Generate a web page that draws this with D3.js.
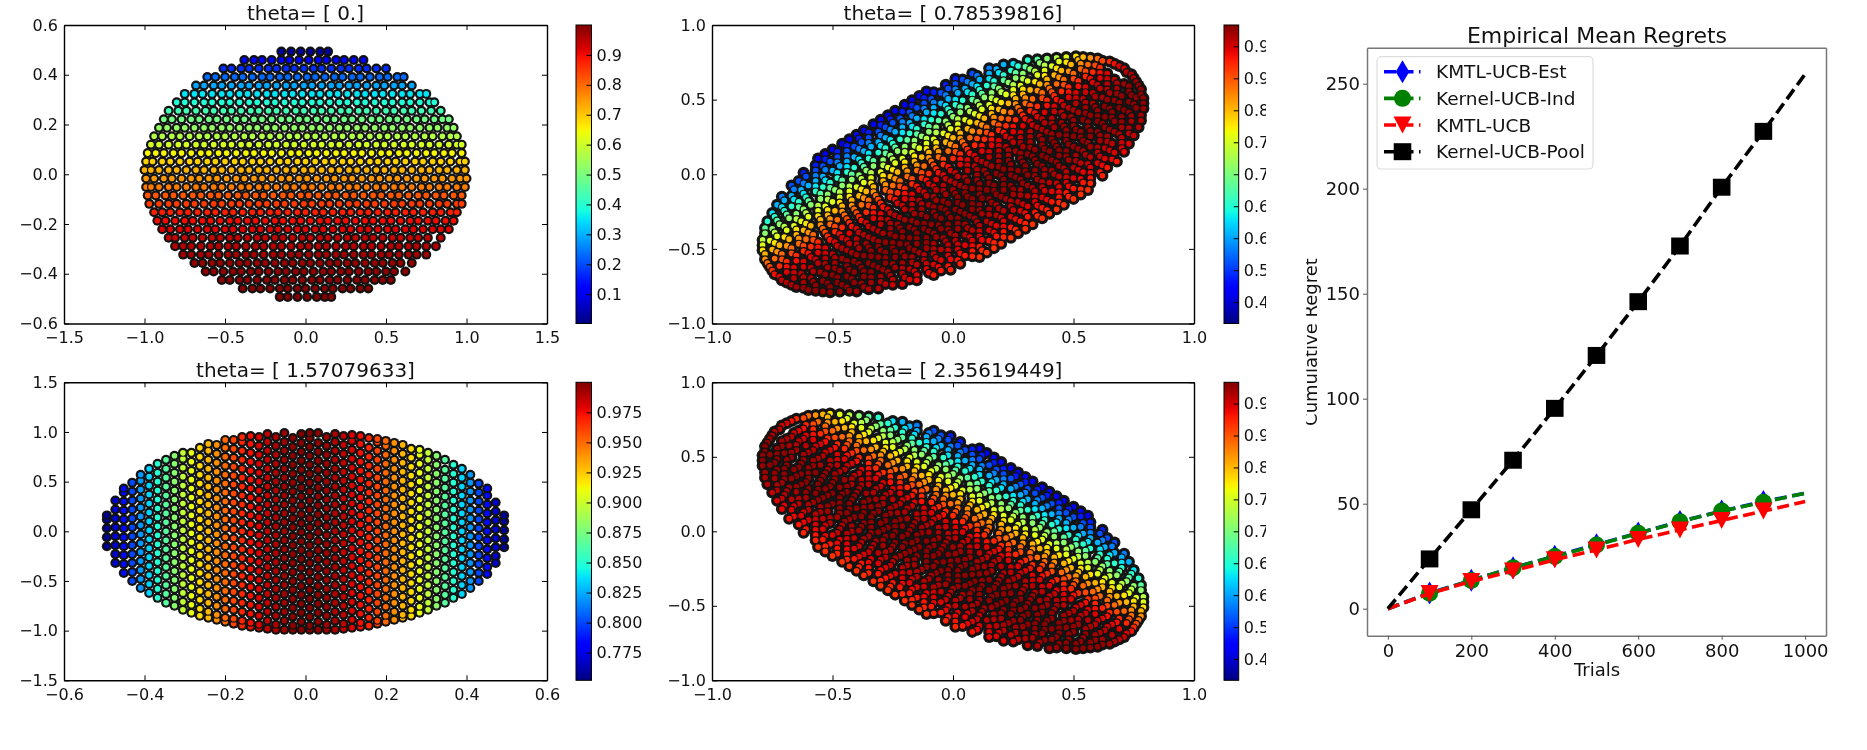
<!DOCTYPE html>
<html><head><meta charset="utf-8">
<script src="https://cdn.jsdelivr.net/npm/d3@7"></script>
<style>
html,body{margin:0;padding:0;background:#fff}
svg{display:block;font-family:"DejaVu Sans",sans-serif;filter:blur(.35px)}
.tick text{fill:#111}
</style></head><body>
<svg id="c" width="1867" height="750"></svg>
<script>
// ---------- Panel 1: rows [y, value, x hundredths]
const rows1=[
[.493,.03,[-15,-9,-3,3,9,14]],
[.459,.11,[-38,-32,-27,-21,-15,-10,-4,2,8,13,19,24,30,36]],
[.425,.17,[-51,-46,-40,-35,-29,-23,-18,-12,-7,-1,5,10,16,22,27,33,38,44,50]],
[.391,.23,[-61,-56,-50,-44,-39,-33,-27,-22,-16,-11,-5,1,6,12,18,23,29,34,40,46,51,57,61]],
[.357,.29,[-68,-63,-57,-52,-46,-40,-35,-29,-24,-18,-12,-7,-1,4,10,16,21,27,32,38,44,49,55,60,66]],
[.323,.35,[-75,-69,-64,-58,-52,-47,-41,-36,-30,-24,-19,-13,-8,-2,4,9,15,20,26,32,37,43,48,54,60,65,71,75]],
[.289,.39,[-80,-75,-69,-63,-58,-52,-47,-41,-35,-30,-24,-19,-13,-7,-2,4,9,15,21,26,32,37,43,49,54,60,65,71,77,80]],
[.255,.43,[-85,-79,-74,-68,-62,-57,-51,-46,-40,-34,-29,-23,-18,-12,-6,-1,5,10,16,22,27,33,38,44,50,55,61,66,72,78,84]],
[.221,.49,[-88,-83,-77,-71,-66,-60,-55,-49,-43,-38,-32,-27,-21,-15,-10,-4,1,7,13,18,24,29,35,41,46,52,57,63,69,74,80,85,89]],
[.187,.53,[-91,-86,-80,-75,-69,-63,-58,-52,-47,-41,-35,-30,-24,-19,-13,-7,-2,4,9,15,21,26,32,37,43,49,54,60,65,71,77,82,88,92]],
[.153,.57,[-94,-89,-83,-78,-72,-66,-61,-55,-50,-44,-38,-33,-27,-22,-16,-10,-5,1,6,12,18,23,29,34,40,46,51,57,62,68,74,79,85,90,94]],
[.119,.61,[-96,-91,-85,-79,-74,-68,-63,-57,-51,-46,-40,-35,-29,-23,-18,-12,-7,-1,5,10,16,21,27,33,38,44,49,55,61,66,72,77,83,89,94,97]],
[.085,.65,[-98,-93,-88,-82,-77,-71,-65,-60,-54,-49,-43,-37,-32,-26,-21,-15,-9,-4,2,7,13,19,24,30,35,41,47,52,58,63,69,75,80,86,91,97]],
[.051,.69,[-99,-95,-89,-84,-78,-72,-67,-61,-56,-50,-44,-39,-33,-28,-22,-16,-11,-5,0,6,12,17,23,28,34,40,45,51,56,62,68,73,79,84,90,96,99]],
[.017,.72,[-100,-96,-91,-85,-80,-74,-68,-63,-57,-52,-46,-40,-35,-29,-24,-18,-12,-7,-1,4,10,16,21,27,32,38,44,49,55,60,66,72,77,83,88,94,99]],
[-.017,.75,[-99,-94,-88,-83,-77,-71,-66,-60,-55,-49,-43,-38,-32,-27,-21,-15,-10,-4,1,7,13,18,24,29,35,41,46,52,57,63,69,74,80,85,91,96,100]],
[-.051,.78,[-99,-96,-91,-85,-80,-74,-68,-63,-57,-52,-46,-40,-35,-29,-24,-18,-12,-7,-1,4,10,16,21,27,32,38,44,49,55,60,66,72,77,83,88,94,99]],
[-.085,.82,[-98,-93,-87,-82,-76,-70,-65,-59,-54,-48,-42,-37,-31,-26,-20,-14,-9,-3,2,8,14,19,25,30,36,42,47,53,58,64,70,75,81,86,92,97]],
[-.119,.85,[-97,-91,-85,-80,-74,-69,-63,-57,-52,-46,-41,-35,-29,-24,-18,-13,-7,-1,4,10,15,21,27,32,38,43,49,55,60,66,71,77,83,88,94,97]],
[-.153,.88,[-94,-89,-84,-78,-73,-67,-61,-56,-50,-45,-39,-33,-28,-22,-17,-11,-5,0,6,11,17,23,28,34,39,45,51,56,62,67,73,79,84,90,94]],
[-.187,.90,[-92,-87,-81,-75,-70,-64,-59,-53,-47,-42,-36,-31,-25,-19,-14,-8,-3,3,9,14,20,25,31,37,42,48,53,59,65,70,76,81,87,92]],
[-.221,.92,[-89,-84,-78,-73,-67,-61,-56,-50,-45,-39,-33,-28,-22,-17,-11,-5,0,6,11,17,23,28,34,39,45,51,56,62,67,73,79,84,89]],
[-.255,.94,[-85,-81,-75,-70,-64,-58,-53,-47,-42,-36,-30,-25,-19,-14,-8,-2,3,9,14,20,26,31,37,42,48,54,59,65,70,76,84]],
[-.289,.955,[-81,-76,-71,-65,-59,-54,-48,-43,-37,-31,-26,-20,-15,-9,-3,2,8,13,19,25,30,36,41,47,53,58,64,69,75,81]],
[-.323,.968,[-76,-71,-65,-60,-54,-48,-43,-37,-32,-26,-20,-15,-9,-4,2,8,13,19,24,30,36,41,47,52,58,64,69,75]],
[-.357,.978,[-69,-64,-58,-53,-47,-41,-36,-30,-25,-19,-13,-8,-2,3,9,15,20,26,31,37,43,48,54,59,66]],
[-.391,.985,[-62,-57,-51,-45,-40,-34,-29,-23,-17,-12,-6,-1,5,11,16,22,27,33,39,44,50,55,62]],
[-.425,.99,[-52,-47,-41,-36,-30,-24,-19,-13,-8,-2,4,9,15,20,26,32,37,43,48,53]],
[-.459,.995,[-39,-33,-28,-22,-16,-11,-5,0,6,12,17,23,28,34,39]],
[-.493,.999,[-16,-11,-5,1,7,12,16]]
];
// ---------- Panel 3: columns [x, value, y hundredths]
const cols3=[
[-.4935,.757,[-15,-6,3,12,16]],
[-.4725,.77,[-32,-23,-14,-5,4,13,22,31]],
[-.4515,.785,[-42,-33,-24,-15,-6,3,12,21,30,39,43]],
[-.4305,.80,[-50,-41,-32,-23,-14,-5,4,13,22,31,40,49]],
[-.4095,.82,[-57,-48,-39,-30,-21,-12,-3,6,15,24,33,42,51,57]],
[-.3885,.835,[-62,-53,-44,-35,-26,-17,-8,1,10,19,28,37,46,55,63]],
[-.3675,.85,[-67,-58,-49,-40,-31,-22,-13,-4,5,14,23,32,41,50,59,68]],
[-.3465,.865,[-72,-63,-54,-45,-36,-27,-18,-9,0,9,18,27,36,45,54,63,72]],
[-.3255,.88,[-75,-67,-58,-49,-40,-31,-22,-13,-4,5,14,23,32,41,50,59,68,76]],
[-.3045,.897,[-79,-71,-62,-53,-44,-35,-26,-17,-8,1,10,19,28,37,46,55,64,73,79]],
[-.2835,.908,[-82,-74,-65,-56,-47,-38,-29,-20,-11,-2,7,16,25,34,43,52,61,70,79]],
[-.2625,.92,[-85,-78,-69,-60,-51,-42,-33,-24,-15,-6,3,12,21,30,39,48,57,66,75,84]],
[-.2415,.93,[-87,-81,-72,-63,-54,-45,-36,-27,-18,-9,0,9,18,27,36,45,54,63,72,81,88]],
[-.2205,.94,[-89,-84,-75,-66,-57,-48,-39,-30,-21,-12,-3,6,15,24,33,42,51,60,69,78,87]],
[-.1995,.95,[-91,-87,-78,-69,-60,-51,-42,-33,-24,-15,-6,3,12,21,30,39,48,57,66,75,84,92]],
[-.1785,.96,[-93,-88,-79,-70,-61,-52,-43,-34,-25,-16,-7,2,11,20,29,38,47,56,65,74,83,92]],
[-.1575,.968,[-95,-90,-81,-72,-63,-54,-45,-36,-27,-18,-9,0,9,18,27,36,45,54,63,72,81,90,95]],
[-.1365,.974,[-96,-92,-83,-74,-65,-56,-47,-38,-29,-20,-11,-2,7,16,25,34,43,52,61,70,79,88,96]],
[-.1155,.98,[-97,-94,-85,-76,-67,-58,-49,-40,-31,-22,-13,-4,5,14,23,32,41,50,59,68,77,86,95]],
[-.0945,.986,[-98,-90,-81,-72,-63,-54,-45,-36,-27,-18,-9,0,9,18,27,36,45,54,63,72,81,90,98]],
[-.0735,.99,[-99,-94,-85,-76,-67,-58,-49,-40,-31,-22,-13,-4,5,14,23,32,41,50,59,68,77,86,95]],
[-.0525,.994,[-99,-90,-81,-72,-63,-54,-45,-36,-27,-18,-9,0,9,18,27,36,45,54,63,72,81,90,99]],
[-.0315,.997,[-99,-95,-86,-77,-68,-59,-50,-41,-32,-23,-14,-5,4,13,22,31,40,49,58,67,76,85,94]],
[-.0105,.999,[-99,-91,-82,-73,-64,-55,-46,-37,-28,-19,-10,-1,8,17,26,35,44,53,62,71,80,89,98]],
[.0105,.999,[-99,-95,-86,-77,-68,-59,-50,-41,-32,-23,-14,-5,4,13,22,31,40,49,58,67,76,85,94,99]],
[.0315,.997,[-99,-91,-82,-73,-64,-55,-46,-37,-28,-19,-10,-1,8,17,26,35,44,53,62,71,80,89,99]],
[.0525,.994,[-99,-94,-85,-76,-67,-58,-49,-40,-31,-22,-13,-4,5,14,23,32,41,50,59,68,77,86,95]],
[.0735,.99,[-99,-90,-81,-72,-63,-54,-45,-36,-27,-18,-9,0,9,18,27,36,45,54,63,72,81,90,98]],
[.0945,.986,[-98,-93,-84,-75,-66,-57,-48,-39,-30,-21,-12,-3,6,15,24,33,42,51,60,69,78,87,96]],
[.1155,.98,[-97,-89,-80,-71,-62,-53,-44,-35,-26,-17,-8,1,10,19,28,37,46,55,64,73,82,91,97]],
[.1365,.974,[-96,-92,-83,-74,-65,-56,-47,-38,-29,-20,-11,-2,7,16,25,34,43,52,61,70,79,88,96]],
[.1575,.968,[-95,-87,-78,-69,-60,-51,-42,-33,-24,-15,-6,3,12,21,30,39,48,57,66,75,84,94]],
[.1785,.96,[-93,-90,-81,-72,-63,-54,-45,-36,-27,-18,-9,0,9,18,27,36,45,54,63,72,81,90,93]],
[.1995,.95,[-91,-85,-76,-67,-58,-49,-40,-31,-22,-13,-4,5,14,23,32,41,50,59,68,77,86,91]],
[.2205,.94,[-89,-81,-72,-63,-54,-45,-36,-27,-18,-9,0,9,18,27,36,45,54,63,72,81,89]],
[.2415,.93,[-87,-84,-75,-66,-57,-48,-39,-30,-21,-12,-3,6,15,24,33,42,51,60,69,78,87]],
[.2625,.92,[-85,-79,-70,-61,-52,-43,-34,-25,-16,-7,2,11,20,29,38,47,56,65,74,83]],
[.2835,.908,[-82,-76,-67,-58,-49,-40,-31,-22,-13,-4,5,14,23,32,41,50,59,68,77,82]],
[.3045,.897,[-79,-72,-63,-54,-45,-36,-27,-18,-9,0,9,18,27,36,45,54,63,72,79]],
[.3255,.88,[-75,-68,-59,-50,-41,-32,-23,-14,-5,4,13,22,31,40,49,58,67,76]],
[.3465,.865,[-72,-64,-55,-46,-37,-28,-19,-10,-1,8,17,26,35,44,53,62,72]],
[.3675,.85,[-67,-59,-50,-41,-32,-23,-14,-5,4,13,22,31,40,49,58,67]],
[.3885,.835,[-63,-54,-45,-36,-27,-18,-9,0,9,18,27,36,45,54,63]],
[.4095,.82,[-57,-50,-41,-32,-23,-14,-5,4,13,22,31,40,49,57]],
[.4305,.80,[-50,-42,-33,-24,-15,-6,3,12,21,30,39,48]],
[.4515,.785,[-43,-36,-27,-18,-9,0,9,18,27,36,43]],
[.4725,.77,[-32,-25,-16,-7,2,11,20,29]],
[.4935,.757,[-16,-8,1,10,16]]
];
// ---------- Panels 2 and 4: diagonal bands [c, value, x hundredths]; panel 2 has y-x=c, panel 4 has y+x=c
const bands2=[
[.665,.496,[-56,-53,-50,-46,-43,-40,-37,-33,-30,-27,-24,-20,-17,-14,-11]],
[.63,.524,[-62,-57,-53,-48,-44,-39,-35,-30,-26,-21,-17,-12,-8,-3,1]],
[.595,.552,[-67,-64,-61,-57,-54,-51,-48,-44,-41,-38,-35,-31,-28,-25,-22,-18,-15,-12,-9,-5,-2,1,4,8]],
[.56,.58,[-71,-66,-62,-57,-53,-48,-44,-39,-35,-30,-26,-21,-17,-12,-8,-3,1,6,10,15]],
[.525,.608,[-73,-70,-67,-63,-60,-57,-54,-50,-47,-44,-41,-37,-34,-31,-28,-24,-21,-18,-15,-11,-8,-5,-2,2,5,8,11,15,18,21]],
[.49,.636,[-75,-71,-66,-62,-57,-53,-48,-44,-39,-35,-30,-26,-21,-17,-12,-8,-3,1,6,10,15,19,25]],
[.455,.664,[-77,-74,-70,-67,-64,-61,-57,-54,-51,-48,-44,-41,-38,-35,-31,-28,-25,-22,-18,-15,-12,-9,-5,-2,1,4,8,11,14,17,21,24,27,31]],
[.42,.697,[-78,-73,-69,-64,-60,-55,-51,-46,-42,-37,-33,-28,-24,-19,-15,-10,-6,-1,3,8,12,17,21,26,30,35]],
[.385,.731,[-78,-75,-72,-68,-65,-62,-59,-55,-52,-49,-46,-42,-39,-36,-33,-29,-26,-23,-20,-16,-13,-10,-7,-3,0,3,6,10,13,16,19,23,26,29,32,36,39]],
[.35,.76,[-79,-74,-70,-65,-61,-56,-52,-47,-43,-38,-34,-29,-25,-20,-16,-11,-7,-2,2,7,11,16,20,25,29,34,38,43]],
[.315,.787,[-79,-76,-73,-69,-66,-63,-60,-56,-53,-50,-47,-43,-40,-37,-34,-30,-27,-24,-21,-17,-14,-11,-8,-4,-1,2,5,9,12,15,18,22,25,28,31,35,38,41,44,47]],
[.28,.815,[-79,-74,-70,-65,-61,-56,-52,-47,-43,-38,-34,-29,-25,-20,-16,-11,-7,-2,2,7,11,16,20,25,29,34,38,43,47,51]],
[.245,.843,[-78,-75,-72,-68,-65,-62,-59,-55,-52,-49,-46,-42,-39,-36,-33,-29,-26,-23,-20,-16,-13,-10,-7,-3,0,3,6,10,13,16,19,23,26,29,32,36,39,42,45,49,52,54]],
[.21,.865,[-78,-73,-69,-64,-60,-55,-51,-46,-42,-37,-33,-28,-24,-19,-15,-10,-6,-1,3,8,12,17,21,26,30,35,39,44,48,53,57]],
[.175,.888,[-77,-74,-71,-67,-64,-61,-58,-54,-51,-48,-45,-41,-38,-35,-32,-28,-25,-22,-19,-15,-12,-9,-6,-2,1,4,7,11,14,17,20,24,27,30,33,37,40,43,46,50,53,56,60]],
[.14,.908,[-76,-71,-67,-62,-58,-53,-49,-44,-40,-35,-31,-26,-22,-17,-13,-8,-4,1,5,10,14,19,23,28,32,37,41,46,50,55,59,62]],
[.105,.927,[-75,-72,-69,-65,-62,-59,-56,-52,-49,-46,-43,-39,-36,-33,-30,-26,-23,-20,-17,-13,-10,-7,-4,0,3,6,9,13,16,19,22,26,29,32,35,39,42,45,48,52,55,58,61,65]],
[.07,.942,[-74,-69,-65,-60,-56,-51,-47,-42,-38,-33,-29,-24,-20,-15,-11,-6,-2,3,7,12,16,21,25,30,34,39,43,48,52,57,61,67]],
[.035,.955,[-72,-69,-66,-62,-59,-56,-53,-49,-46,-43,-40,-36,-33,-30,-27,-23,-20,-17,-14,-10,-7,-4,-1,3,6,9,12,16,19,22,25,29,32,35,38,42,45,48,51,55,58,61,64,69]],
[0,.964,[-71,-66,-62,-57,-53,-48,-44,-39,-35,-30,-26,-21,-17,-12,-8,-3,1,6,10,15,19,24,28,33,37,42,46,51,55,60,64,71]],
[-.035,.972,[-69,-66,-63,-59,-56,-53,-50,-46,-43,-40,-37,-33,-30,-27,-24,-20,-17,-14,-11,-7,-4,-1,2,6,9,12,15,19,22,25,28,32,35,38,41,45,48,51,54,58,61,64,67,72]],
[-.07,.978,[-67,-62,-58,-53,-49,-44,-40,-35,-31,-26,-22,-17,-13,-8,-4,1,5,10,14,19,23,28,32,37,41,46,50,55,59,64,68,74]],
[-.105,.983,[-65,-62,-59,-55,-52,-49,-46,-42,-39,-36,-33,-29,-26,-23,-20,-16,-13,-10,-7,-3,0,3,6,10,13,16,19,23,26,29,32,36,39,42,45,49,52,55,58,62,65,68,71,75]],
[-.14,.988,[-62,-58,-53,-49,-44,-40,-35,-31,-26,-22,-17,-13,-8,-4,1,5,10,14,19,23,28,32,37,41,46,50,55,59,64,68,73,76]],
[-.175,.992,[-60,-57,-54,-50,-47,-44,-41,-37,-34,-31,-28,-24,-21,-18,-15,-11,-8,-5,-2,2,5,8,11,15,18,21,24,28,31,34,37,41,44,47,50,54,57,60,63,67,70,73,77]],
[-.21,.993,[-57,-52,-48,-43,-39,-34,-30,-25,-21,-16,-12,-7,-3,2,6,11,15,20,24,29,33,38,42,47,51,56,60,65,69,74,78]],
[-.245,.994,[-54,-51,-48,-44,-41,-38,-35,-31,-28,-25,-22,-18,-15,-12,-9,-5,-2,1,4,8,11,14,17,21,24,27,30,34,37,40,43,47,50,53,56,60,63,66,69,73,76,78]],
[-.28,.993,[-51,-46,-42,-37,-33,-28,-24,-19,-15,-10,-6,-1,3,8,12,17,21,26,30,35,39,44,48,53,57,62,66,71,75,79]],
[-.315,.992,[-47,-44,-41,-37,-34,-31,-28,-24,-21,-18,-15,-11,-8,-5,-2,2,5,8,11,15,18,21,24,28,31,34,37,41,44,47,50,54,57,60,63,67,70,73,76,79]],
[-.35,.988,[-43,-38,-34,-29,-25,-20,-16,-11,-7,-2,2,7,11,16,20,25,29,34,38,43,47,52,56,61,65,70,74,79]],
[-.385,.983,[-40,-37,-34,-30,-27,-24,-21,-17,-14,-11,-8,-4,-1,2,5,9,12,15,18,22,25,28,31,35,38,41,44,48,51,54,57,61,64,67,70,74,78]],
[-.42,.978,[-35,-30,-26,-21,-17,-12,-8,-3,1,6,10,15,19,24,28,33,37,42,46,51,55,60,64,69,73,78]],
[-.455,.972,[-31,-28,-25,-21,-18,-15,-12,-8,-5,-2,1,5,8,11,14,18,21,24,27,31,34,37,40,44,47,50,53,57,60,63,66,70,73,77]],
[-.49,.964,[-25,-20,-16,-11,-7,-2,2,7,11,16,20,25,29,34,38,43,47,52,56,61,65,70,75]],
[-.525,.955,[-21,-18,-15,-11,-8,-5,-2,2,5,8,11,15,18,21,24,28,31,34,37,41,44,47,50,54,57,60,63,67,70,73]],
[-.56,.947,[-15,-10,-6,-1,3,8,12,17,21,26,30,35,39,44,48,53,57,62,66,71]],
[-.595,.938,[-8,-5,-2,2,5,8,11,15,18,21,24,28,31,34,37,41,44,47,50,54,57,61,64,68]],
[-.63,.93,[-1,3,8,12,17,21,26,30,35,39,44,48,53,57,62]],
[-.665,.922,[11,14,17,20,24,27,30,33,37,40,43,46,50,53,56]]
];
const bands4=[
[.665,.496,[11,14,17,20,24,27,30,33,37,40,43,46,50,53,56]],
[.63,.524,[-1,3,8,12,17,21,26,30,35,39,44,48,53,57,62]],
[.595,.552,[-8,-5,-2,2,5,8,11,15,18,21,24,28,31,34,37,41,44,47,50,54,57,61,64,67]],
[.56,.58,[-15,-10,-6,-1,3,8,12,17,21,26,30,35,39,44,48,53,57,62,66,71]],
[.525,.608,[-21,-18,-15,-11,-8,-5,-2,2,5,8,11,15,18,21,24,28,31,34,37,41,44,47,50,54,57,60,63,67,70,73]],
[.49,.636,[-25,-20,-16,-11,-7,-2,2,7,11,16,20,25,29,34,38,43,47,52,56,61,65,70,75]],
[.455,.664,[-31,-27,-24,-21,-17,-14,-11,-8,-4,-1,2,5,9,12,15,18,22,25,28,31,35,38,41,44,48,51,54,57,61,64,67,70,74,77]],
[.42,.697,[-35,-30,-26,-21,-17,-12,-8,-3,1,6,10,15,19,24,28,33,37,42,46,51,55,60,64,69,73,78]],
[.385,.731,[-39,-36,-32,-29,-26,-23,-19,-16,-13,-10,-6,-3,0,3,7,10,13,16,20,23,26,29,33,36,39,42,46,49,52,55,59,62,65,68,72,75,78]],
[.35,.76,[-43,-38,-34,-29,-25,-20,-16,-11,-7,-2,2,7,11,16,20,25,29,34,38,43,47,52,56,61,65,70,74,79]],
[.315,.787,[-47,-44,-41,-38,-35,-31,-28,-25,-22,-18,-15,-12,-9,-5,-2,1,4,8,11,14,17,21,24,27,30,34,37,40,43,47,50,53,56,60,63,66,69,73,76,79]],
[.28,.815,[-51,-46,-42,-37,-33,-28,-24,-19,-15,-10,-6,-1,3,8,12,17,21,26,30,35,39,44,48,53,57,62,66,71,75,79]],
[.245,.843,[-54,-52,-49,-45,-42,-39,-36,-32,-29,-26,-23,-19,-16,-13,-10,-6,-3,0,3,7,10,13,16,20,23,26,29,33,36,39,42,46,49,52,55,59,62,65,68,72,75,78]],
[.21,.865,[-57,-52,-48,-43,-39,-34,-30,-25,-21,-16,-12,-7,-3,2,6,11,15,20,24,29,33,38,42,47,51,56,60,65,69,74,78]],
[.175,.888,[-60,-56,-53,-50,-46,-43,-40,-37,-33,-30,-27,-24,-20,-17,-14,-11,-7,-4,-1,2,6,9,12,15,19,22,25,28,32,35,38,41,45,48,51,54,58,61,64,67,71,74,77]],
[.14,.908,[-62,-58,-53,-49,-44,-40,-35,-31,-26,-22,-17,-13,-8,-4,1,5,10,14,19,23,28,32,37,41,46,50,55,59,64,68,73,76]],
[.105,.927,[-65,-61,-58,-55,-52,-48,-45,-42,-39,-35,-32,-29,-26,-22,-19,-16,-13,-9,-6,-3,0,4,7,10,13,17,20,23,26,30,33,36,39,43,46,49,52,56,59,62,65,69,72,75]],
[.07,.942,[-67,-62,-58,-53,-49,-44,-40,-35,-31,-26,-22,-17,-13,-8,-4,1,5,10,14,19,23,28,32,37,41,46,50,55,59,64,68,74]],
[.035,.955,[-69,-64,-61,-58,-55,-51,-48,-45,-42,-38,-35,-32,-29,-25,-22,-19,-16,-12,-9,-6,-3,1,4,7,10,14,17,20,23,27,30,33,36,40,43,46,49,53,56,59,62,66,69,72]],
[0,.964,[-71,-66,-62,-57,-53,-48,-44,-39,-35,-30,-26,-21,-17,-12,-8,-3,1,6,10,15,19,24,28,33,37,42,46,51,55,60,64,71]],
[-.035,.972,[-72,-67,-64,-61,-58,-54,-51,-48,-45,-41,-38,-35,-32,-28,-25,-22,-19,-15,-12,-9,-6,-2,1,4,7,11,14,17,20,24,27,30,33,37,40,43,46,50,53,56,59,63,66,69]],
[-.07,.978,[-74,-69,-65,-60,-56,-51,-47,-42,-38,-33,-29,-24,-20,-15,-11,-6,-2,3,7,12,16,21,25,30,34,39,43,48,52,57,61,67]],
[-.105,.983,[-75,-71,-68,-65,-62,-58,-55,-52,-49,-45,-42,-39,-36,-32,-29,-26,-23,-19,-16,-13,-10,-6,-3,0,3,7,10,13,16,20,23,26,29,33,36,39,42,46,49,52,55,59,62,65]],
[-.14,.988,[-76,-71,-67,-62,-58,-53,-49,-44,-40,-35,-31,-26,-22,-17,-13,-8,-4,1,5,10,14,19,23,28,32,37,41,46,50,55,59,62]],
[-.175,.992,[-77,-73,-70,-67,-63,-60,-57,-54,-50,-47,-44,-41,-37,-34,-31,-28,-24,-21,-18,-15,-11,-8,-5,-2,2,5,8,11,15,18,21,24,28,31,34,37,41,44,47,50,54,57,60]],
[-.21,.993,[-78,-73,-69,-64,-60,-55,-51,-46,-42,-37,-33,-28,-24,-19,-15,-10,-6,-1,3,8,12,17,21,26,30,35,39,44,48,53,57]],
[-.245,.994,[-78,-76,-73,-69,-66,-63,-60,-56,-53,-50,-47,-43,-40,-37,-34,-30,-27,-24,-21,-17,-14,-11,-8,-4,-1,2,5,9,12,15,18,22,25,28,31,35,38,41,44,48,51,54]],
[-.28,.993,[-79,-74,-70,-65,-61,-56,-52,-47,-43,-38,-34,-29,-25,-20,-16,-11,-7,-2,2,7,11,16,20,25,29,34,38,43,47,51]],
[-.315,.992,[-79,-76,-73,-70,-67,-63,-60,-57,-54,-50,-47,-44,-41,-37,-34,-31,-28,-24,-21,-18,-15,-11,-8,-5,-2,2,5,8,11,15,18,21,24,28,31,34,37,41,44,47]],
[-.35,.988,[-79,-74,-70,-65,-61,-56,-52,-47,-43,-38,-34,-29,-25,-20,-16,-11,-7,-2,2,7,11,16,20,25,29,34,38,43]],
[-.385,.983,[-78,-74,-71,-68,-65,-61,-58,-55,-52,-48,-45,-42,-39,-35,-32,-29,-26,-22,-19,-16,-13,-9,-6,-3,0,4,7,10,13,17,20,23,26,30,33,36,40]],
[-.42,.978,[-78,-73,-69,-64,-60,-55,-51,-46,-42,-37,-33,-28,-24,-19,-15,-10,-6,-1,3,8,12,17,21,26,30,35]],
[-.455,.972,[-77,-73,-70,-67,-64,-60,-57,-54,-51,-47,-44,-41,-38,-34,-31,-28,-25,-21,-18,-15,-12,-8,-5,-2,1,5,8,11,14,18,21,24,27,31]],
[-.49,.964,[-75,-71,-66,-62,-57,-53,-48,-44,-39,-35,-30,-26,-21,-17,-12,-8,-3,1,6,10,15,19,25]],
[-.525,.955,[-73,-70,-67,-63,-60,-57,-54,-50,-47,-44,-41,-37,-34,-31,-28,-24,-21,-18,-15,-11,-8,-5,-2,2,5,8,11,15,18,21]],
[-.56,.947,[-71,-66,-62,-57,-53,-48,-44,-39,-35,-30,-26,-21,-17,-12,-8,-3,1,6,10,15]],
[-.595,.938,[-68,-64,-61,-57,-54,-51,-48,-44,-41,-38,-35,-31,-28,-25,-22,-18,-15,-12,-9,-5,-2,1,4,8]],
[-.63,.93,[-62,-57,-53,-48,-44,-39,-35,-30,-26,-21,-17,-12,-8,-3,1]],
[-.665,.922,[-56,-53,-50,-46,-43,-40,-37,-33,-30,-27,-24,-20,-17,-14,-11]]
];
// ---------- Regret chart
const trials=[0,100,200,300,400,500,600,700,800,900,1000];
const kmtlEst=[0,7.5,13.5,19.5,25,30.5,36,41.5,46.5,51,55];
const kernelInd=[0,7.3,13.4,19.5,24.8,30.3,35.9,41.4,46.5,50.7,55];
const kmtl=[0,7.2,13,18,23.3,28,33,37.5,42,46.5,51];
const kernelPool=[0,23.7,47.1,70.7,95.4,120.6,146.2,172.7,200.7,227.3,254.6];
const regretSeries=[
 {name:"KMTL-UCB-Est",color:"#0000ff",shape:"diamond",vals:kmtlEst},
 {name:"Kernel-UCB-Ind",color:"#008000",shape:"circle",vals:kernelInd},
 {name:"KMTL-UCB",color:"#ff0000",shape:"triangle",vals:kmtl},
 {name:"Kernel-UCB-Pool",color:"#000000",shape:"square",vals:kernelPool}
];
const xTicksRegret=[0,200,400,600,800,1000], yTicksRegret=[0,50,100,150,200,250];
const cb1Ticks=[.1,.2,.3,.4,.5,.6,.7,.8,.9];
const cb2Ticks=[.48,.54,.6,.66,.72,.78,.84,.9,.96];
const cb3Ticks=[.775,.8,.825,.85,.875,.9,.925,.95,.975];

const svg=d3.select("#c");
const num=d3.format(".1f"), minus=s=>s.replace("-","\u2212");
const jetR=d3.scaleLinear().domain([0,.35,.66,.89,1]).range([0,0,1,1,.5]);
const jetG=d3.scaleLinear().domain([0,.125,.375,.64,.91,1]).range([0,0,1,1,0,0]);
const jetB=d3.scaleLinear().domain([0,.11,.34,.65,1]).range([.5,1,1,0,0]);
const jet=t=>`rgb(${Math.round(255*jetR(t))},${Math.round(255*jetG(t))},${Math.round(255*jetB(t))})`;
const defs=svg.append("defs");
const grad=defs.append("linearGradient").attr("id","jetg").attr("x1",0).attr("x2",0).attr("y1",1).attr("y2",0);
d3.range(0,1.001,.02).forEach(t=>grad.append("stop").attr("offset",t).attr("stop-color",jet(t)));
defs.append("clipPath").attr("id","cbclip").append("rect").attr("x",-10).attr("y",0).attr("width",37.3).attr("height",750);
defs.append("clipPath").attr("id","ylabclip").append("rect").attr("x",1306.3).attr("y",0).attr("width",40).attr("height",750);

function panel(o){
 const g=svg.append("g");
 const x=d3.scaleLinear().domain(o.xd).range([o.l,o.r]);
 const y=d3.scaleLinear().domain(o.yd).range([o.b,o.t]);
 const col=d3.scaleLinear().domain(o.cd).range([0,1]);
 g.append("g").selectAll("circle").data(o.pts).join("circle")
  .attr("cx",d=>x(d.x)).attr("cy",d=>y(d.y)).attr("r",o.under).attr("fill","#161616");
 g.append("g").selectAll("circle").data(o.pts).join("circle")
  .attr("cx",d=>x(d.x)).attr("cy",d=>y(d.y)).attr("r",3.4)
  .attr("fill",d=>jet(col(d.v))).attr("stroke","#111").attr("stroke-width",1.2);
 const fx=d=>minus(num(d));
 const mk=(a,tr)=>{const s=g.append("g").attr("transform",tr).call(a);
   s.selectAll("text").attr("font-size",16).attr("font-family","DejaVu Sans");
   s.select(".domain").attr("stroke","#000").attr("stroke-width",1.4);
   s.selectAll(".tick line").attr("stroke","#000");return s;};
 mk(d3.axisBottom(x).tickValues(o.xt).tickFormat(fx).tickSizeInner(-5).tickSizeOuter(0).tickPadding(8),`translate(0,${o.b})`);
 mk(d3.axisTop(x).tickValues(o.xt).tickFormat("").tickSizeInner(-5).tickSizeOuter(0),`translate(0,${o.t})`);
 mk(d3.axisLeft(y).tickValues(o.yt).tickFormat(fx).tickSizeInner(-5).tickSizeOuter(0).tickPadding(6),`translate(${o.l},0)`);
 mk(d3.axisRight(y).tickValues(o.yt).tickFormat("").tickSizeInner(-5).tickSizeOuter(0),`translate(${o.r},0)`);
 g.append("text").attr("x",(o.l+o.r)/2).attr("y",o.t-5).attr("text-anchor","middle").attr("font-size",20).attr("fill","#111").text(o.title);
 const cy=d3.scaleLinear().domain(o.cd).range([o.b,o.t]);
 g.append("rect").attr("x",o.cl).attr("y",o.t).attr("width",o.cw).attr("height",o.b-o.t).attr("fill","url(#jetg)").attr("stroke","#000").attr("stroke-width",1);
 const ca=g.append("g").attr("transform",`translate(${o.cl+o.cw},0)`)
  .call(d3.axisRight(cy).tickValues(o.ct).tickFormat(o.cf).tickSizeInner(-5).tickSizeOuter(0).tickPadding(5));
 ca.select(".domain").remove();
 ca.selectAll(".tick line").attr("stroke","#000");
 ca.selectAll("text").attr("font-size",16).attr("font-family","DejaVu Sans");
 if(o.clip) ca.attr("clip-path","url(#cbclip)");
}
const pts1=rows1.flatMap(([y,v,xs])=>xs.map(x=>({x:x/100,y,v})));
const pts3=cols3.flatMap(([x,v,ys])=>ys.map(y=>({x,y:y/100,v})));
const pts2=bands2.flatMap(([c,v,xs])=>xs.map(x=>({x:x/100,y:x/100+c,v})));
const pts4=bands4.flatMap(([c,v,xs])=>xs.map(x=>({x:x/100,y:c-x/100,v})));
const f1=d3.format(".1f"),f2=d3.format(".2f"),f3=d3.format(".3f");
panel({pts:pts1,under:5,l:64,r:547,t:25,b:323.5,xd:[-1.5,1.5],yd:[-.6,.6],xt:[-1.5,-1,-.5,0,.5,1,1.5],yt:[-.6,-.4,-.2,0,.2,.4,.6],title:"theta= [ 0.]",cd:[.002,1],ct:cb1Ticks,cf:f1,cl:576,cw:15.5});
panel({pts:pts2,under:6,l:712,r:1194,t:25,b:323.5,xd:[-1,1],yd:[-1,1],xt:[-1,-.5,0,.5,1],yt:[-1,-.5,0,.5,1],title:"theta= [ 0.78539816]",cd:[.44,1],ct:cb2Ticks,cf:f2,cl:1224,cw:14.7,clip:true});
panel({pts:pts3,under:5,l:64,r:547,t:382.3,b:680.3,xd:[-.6,.6],yd:[-1.5,1.5],xt:[-.6,-.4,-.2,0,.2,.4,.6],yt:[-1.5,-1,-.5,0,.5,1,1.5],title:"theta= [ 1.57079633]",cd:[.752,1],ct:cb3Ticks,cf:f3,cl:576,cw:15.5});
panel({pts:pts4,under:6,l:712,r:1194,t:382.3,b:680.3,xd:[-1,1],yd:[-1,1],xt:[-1,-.5,0,.5,1],yt:[-1,-.5,0,.5,1],title:"theta= [ 2.35619449]",cd:[.44,1],ct:cb2Ticks,cf:f2,cl:1224,cw:14.7,clip:true});

const rx=d3.scaleLinear().domain([-50,1050]).range([1367,1826]);
const ry=d3.scaleLinear().domain([-12.86,267.14]).range([635.7,47.7]);
const rg=svg.append("g");
const line=d3.line().x((d,i)=>rx(trials[i])).y(d=>ry(d));
const marker={
 diamond:"M0,-11.5L6.8,0L0,11.5L-6.8,0Z",
 circle:d3.symbol(d3.symbolCircle,Math.PI*8.5*8.5)(),
 triangle:"M-9,-8.5L9,-8.5L0,8.5Z",
 square:"M-8.8,-8.5H8.8V8.5H-8.8Z"};
const dash="12,5.5";
regretSeries.forEach(s=>{
 rg.append("path").attr("d",line(s.vals)).attr("fill","none").attr("stroke",s.color).attr("stroke-width",3.6).attr("stroke-dasharray",dash);
 rg.selectAll(null).data(s.vals.slice(1,10)).join("path").attr("d",marker[s.shape]).attr("fill",s.color)
  .attr("transform",(d,i)=>`translate(${rx(trials[i+1])},${ry(d)})`);
});
const ax=(a,tr)=>{const s=rg.append("g").attr("transform",tr).call(a);
 s.selectAll("text").attr("font-size",18).attr("font-family","DejaVu Sans");
 s.select(".domain").attr("stroke","#777").attr("stroke-width",1.5);
 s.selectAll(".tick line").attr("stroke","#555");};
ax(d3.axisBottom(rx).tickValues(xTicksRegret).tickFormat(d3.format("d")).tickSizeInner(4).tickSizeOuter(0).tickPadding(5),"translate(0,635.7)");
ax(d3.axisTop(rx).tickValues([]).tickSizeOuter(0),"translate(0,47.7)");
ax(d3.axisLeft(ry).tickValues(yTicksRegret).tickFormat(d3.format("d")).tickSizeInner(4).tickSizeOuter(0).tickPadding(3),"translate(1367,0)");
ax(d3.axisRight(ry).tickValues([]).tickSizeOuter(0),"translate(1826,0)");
rg.append("text").attr("x",1597).attr("y",42.5).attr("text-anchor","middle").attr("font-size",22).attr("fill","#111").text("Empirical Mean Regrets");
rg.append("text").attr("x",1597).attr("y",675.7).attr("text-anchor","middle").attr("font-size",18).attr("fill","#111").text("Trials");
rg.append("g").attr("clip-path","url(#ylabclip)").append("text").attr("transform","translate(1317,342) rotate(-90)").attr("text-anchor","middle").attr("font-size",18).attr("fill","#111").text("Cumulative Regret");
rg.append("rect").attr("x",1377).attr("y",56.7).attr("width",216).attr("height",112.3).attr("rx",4).attr("fill","#fff").attr("stroke","#ddd").attr("stroke-width",1.2);
const legendY=d3.scalePoint().domain(regretSeries.map(s=>s.name)).range([71.7,151.7]);
regretSeries.forEach(s=>{
 const yy=legendY(s.name);
 rg.append("line").attr("x1",1384).attr("x2",1420.5).attr("y1",yy).attr("y2",yy).attr("stroke",s.color).attr("stroke-width",3.6).attr("stroke-dasharray",dash);
 rg.append("path").attr("d",marker[s.shape]).attr("fill",s.color).attr("transform",`translate(1402.5,${yy})`);
 rg.append("text").attr("x",1436).attr("y",yy+6.5).attr("font-size",18.5).attr("fill","#111").text(s.name);
});
</script>
</body></html>
